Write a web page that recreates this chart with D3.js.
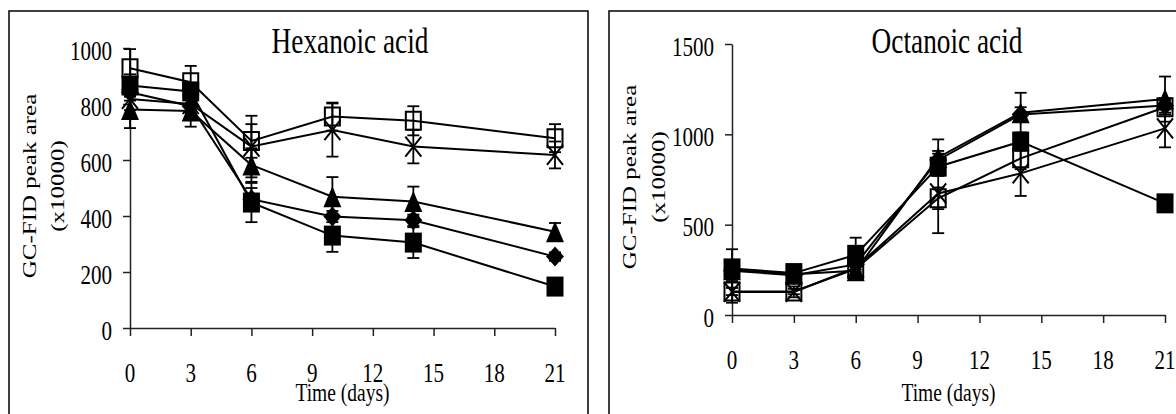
<!DOCTYPE html>
<html>
<head>
<meta charset="utf-8">
<script src="https://cdn.jsdelivr.net/npm/d3@7/dist/d3.min.js"></script>
<style>
  html, body { margin: 0; padding: 0; background: #fff; }
  svg { display: block; }
  text { font-family: "Liberation Serif", "Times New Roman", serif; fill: #000; }
</style>
</head>
<body>
<svg id="chart" width="1176" height="414"></svg>
<script>
// Sampling days and axis ticks
const days = [0, 3, 6, 10, 14, 21];
const xTicks = [0, 3, 6, 9, 12, 15, 18, 21];
const hexYTicks = [0, 200, 400, 600, 800, 1000];
const octYTicks = [0, 500, 1000, 1500];

// Hexanoic acid, GC-FID peak area (x10000), mean and error
const hexOpenSquare = [928, 878, 668, 755, 740, 678];
const hexOpenSquareErr = [68, 58, 60, 50, 52, 50];
const hexCross = [818, 800, 648, 707, 648, 618];
const hexCrossErr = [40, 30, 110, 95, 60, 48];
const hexTriangle = [780, 775, 582, 469, 452, 344];
const hexTriangleErr = [66, 56, 60, 70, 53, 31];
const hexDiamond = [842, 792, 460, 398, 385, 255];
const hexDiamondErr = [30, 25, 40, 20, 20, 15];
const hexFilledSquare = [866, 845, 448, 330, 305, 148];
const hexFilledSquareErr = [40, 30, 70, 58, 55, 8];

// Octanoic acid, GC-FID peak area (x10000), mean and error
const octOpenSquare = [130, 130, 255, 646, 867, 1150];
const octOpenSquareErr = [20, 15, 30, 60, 60, 40];
const octCross = [128, 128, 262, 673, 784, 1033];
const octCrossErr = [60, 30, 40, 220, 125, 105];
const octTriangle = [250, 225, 245, 872, 1120, 1195];
const octTriangleErr = [40, 30, 40, 100, 110, 125];
const octDiamond = [245, 220, 280, 858, 1110, 1160];
const octDiamondErr = [30, 20, 30, 50, 40, 40];
const octFilledSquare = [258, 232, 333, 821, 960, 618];
const octFilledSquareErr = [106, 20, 95, 50, 40, 20];

const svg = d3.select("#chart");
const SQ = 0.78; // horizontal squeeze of the lettering

// Marker outlines, centred on the data point
const markerPath = {
  openSquare: (w, h) => `M${-w/2},${-h/2}H${w/2}V${h/2}H${-w/2}Z`,
  filledSquare: (w, h) => `M${-w/2},${-h/2}H${w/2}V${h/2}H${-w/2}Z`,
  triangle: (w, h) => `M0,${-h/2}L${w/2},${h/2}L${-w/2},${h/2}Z`,
  diamond: (w, h) => `M0,${-h/2}L${w/2},0L0,${h/2}L${-w/2},0Z`,
  cross: (w, h) => `M${-w/2},${-h/2}L${w/2},${h/2}M${w/2},${-h/2}L${-w/2},${h/2}`
};
const markerStyle = {
  openSquare: { w: 15, h: 18, fill: "none", stroke: "#000", sw: 2 },
  cross: { w: 16, h: 20, fill: "none", stroke: "#000", sw: 2 },
  triangle: { w: 18, h: 21, fill: "#000", stroke: "none", sw: 0 },
  diamond: { w: 18, h: 20, fill: "#000", stroke: "none", sw: 0 },
  filledSquare: { w: 17, h: 20, fill: "#000", stroke: "none", sw: 0 }
};

function drawPanel(cfg) {
  const g = svg.append("g");

  // panel frame
  g.append("rect")
    .attr("x", cfg.frame[0]).attr("y", cfg.frame[1])
    .attr("width", cfg.frame[2]).attr("height", cfg.frame[3])
    .attr("fill", "none").attr("stroke", "#000").attr("stroke-width", 1.5);

  const x = d3.scaleLinear().domain([0, 21]).range(cfg.xRange);
  const y = d3.scaleLinear().domain(cfg.yDomain).range(cfg.yRange);

  // axes (lines and ticks from d3, labels set separately)
  const yAxis = d3.axisLeft(y).tickValues(cfg.yTicks).tickSize(7).tickSizeOuter(0).tickFormat("");
  const xAxis = d3.axisBottom(x).tickValues(xTicks).tickSize(8).tickSizeOuter(0).tickFormat("");
  const ga = g.append("g").attr("transform", `translate(${cfg.xRange[0]},0)`).call(yAxis);
  const gb = g.append("g").attr("transform", `translate(0,${cfg.yRange[0]})`).call(xAxis);
  [ga, gb].forEach(a => {
    a.selectAll("path,line").attr("stroke", "#222").attr("stroke-width", 1.5);
  });

  // y tick labels
  g.selectAll(".ylab").data(cfg.yTicks).enter().append("text")
    .attr("transform", d => `translate(${cfg.xRange[0] - 18},${y(d) + 11.5}) scale(${SQ},1)`)
    .attr("text-anchor", "end").attr("font-size", 27)
    .text(d => d);

  // x tick labels
  g.selectAll(".xlab").data(xTicks).enter().append("text")
    .attr("transform", d => `translate(${x(d)},${cfg.yRange[0] + 54}) scale(${SQ},1)`)
    .attr("text-anchor", "middle").attr("font-size", 27)
    .text(d => d);

  // x axis title
  g.append("text")
    .attr("transform", `translate(${(cfg.xRange[0] + cfg.xRange[1]) / 2},401) scale(${SQ},1)`)
    .attr("text-anchor", "middle").attr("font-size", 25)
    .text("Time (days)");

  // y axis title, two lines
  g.append("text")
    .attr("transform", `translate(${cfg.yTitleX[0]},${cfg.yTitleY}) rotate(-90) scale(1,${SQ})`)
    .attr("text-anchor", "middle").attr("font-size", 25)
    .text("GC-FID peak area");
  g.append("text")
    .attr("transform", `translate(${cfg.yTitleX[1]},${cfg.yTitleY}) rotate(-90) scale(1,${SQ})`)
    .attr("text-anchor", "middle").attr("font-size", 25)
    .text("(x10000)");

  // chart title
  g.append("text")
    .attr("transform", `translate(${cfg.titleX},53) scale(${SQ},1)`)
    .attr("text-anchor", "middle").attr("font-size", 35)
    .text(cfg.title);

  const line = d3.line().x(d => x(d.day)).y(d => y(d.v));

  cfg.series.forEach(s => {
    const pts = days.map((d, i) => ({ day: d, v: s.values[i], e: s.errs[i] }));
    const sg = g.append("g");

    // error bars
    const eb = sg.selectAll(".eb").data(pts).enter().append("g")
      .attr("stroke", "#000").attr("stroke-width", 1.8);
    eb.append("line")
      .attr("x1", d => x(d.day)).attr("x2", d => x(d.day))
      .attr("y1", d => y(d.v + d.e)).attr("y2", d => y(d.v - d.e));
    eb.append("line")
      .attr("x1", d => x(d.day) - 6).attr("x2", d => x(d.day) + 6)
      .attr("y1", d => y(d.v + d.e)).attr("y2", d => y(d.v + d.e));
    eb.append("line")
      .attr("x1", d => x(d.day) - 6).attr("x2", d => x(d.day) + 6)
      .attr("y1", d => y(d.v - d.e)).attr("y2", d => y(d.v - d.e));

    // connecting line
    sg.append("path").datum(pts)
      .attr("d", line).attr("fill", "none")
      .attr("stroke", "#000").attr("stroke-width", 2);

    // markers
    const st = markerStyle[s.marker];
    sg.selectAll(".mk").data(pts).enter().append("path")
      .attr("transform", d => `translate(${x(d.day)},${y(d.v)})`)
      .attr("d", markerPath[s.marker](st.w, st.h))
      .attr("fill", st.fill).attr("stroke", st.stroke).attr("stroke-width", st.sw);
  });
}

drawPanel({
  frame: [9, 11, 579, 420],
  xRange: [130, 555],
  yDomain: [0, 1000],
  yRange: [328, 48],
  yTicks: hexYTicks,
  yTitleX: [36, 64],
  yTitleY: 186,
  title: "Hexanoic acid",
  titleX: 350,
  series: [
    { marker: "openSquare", values: hexOpenSquare, errs: hexOpenSquareErr },
    { marker: "cross", values: hexCross, errs: hexCrossErr },
    { marker: "triangle", values: hexTriangle, errs: hexTriangleErr },
    { marker: "diamond", values: hexDiamond, errs: hexDiamondErr },
    { marker: "filledSquare", values: hexFilledSquare, errs: hexFilledSquareErr }
  ]
});

drawPanel({
  frame: [609, 11, 620, 420],
  xRange: [732, 1165],
  yDomain: [0, 1500],
  yRange: [315, 44],
  yTicks: octYTicks,
  yTitleX: [636, 665],
  yTitleY: 177,
  title: "Octanoic acid",
  titleX: 947,
  series: [
    { marker: "openSquare", values: octOpenSquare, errs: octOpenSquareErr },
    { marker: "cross", values: octCross, errs: octCrossErr },
    { marker: "triangle", values: octTriangle, errs: octTriangleErr },
    { marker: "diamond", values: octDiamond, errs: octDiamondErr },
    { marker: "filledSquare", values: octFilledSquare, errs: octFilledSquareErr }
  ]
});
</script>
</body>
</html>
